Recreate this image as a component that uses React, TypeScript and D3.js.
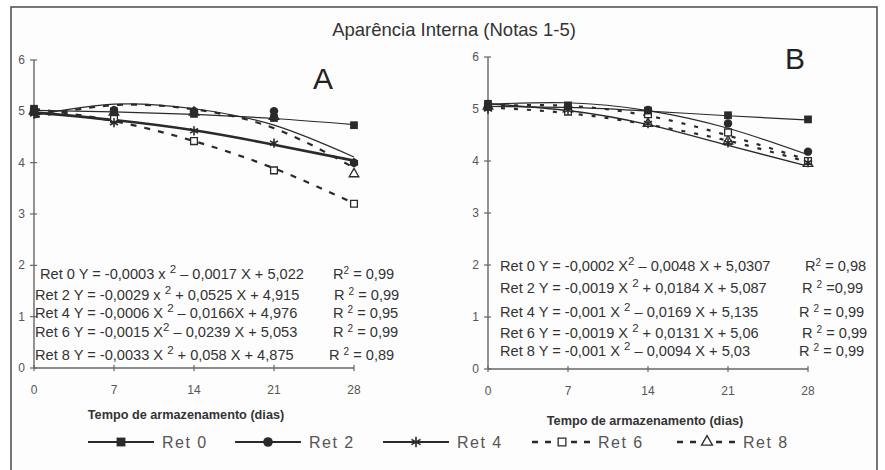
import React from 'react';
import * as d3 from 'd3';

// storage days
const days = [0, 7, 14, 21, 28];
const yTicks = [0, 1, 2, 3, 4, 5, 6];
const seriesNames = ['Ret 0', 'Ret 2', 'Ret 4', 'Ret 6', 'Ret 8'];

// panel A - observed scores
const obsA = [
  [5.05, 5.0, 4.95, 4.87, 4.73],
  [5.0, 5.02, 5.0, 5.0, 4.0],
  [4.95, 4.78, 4.62, 4.38, 4.0],
  [5.0, 4.85, 4.42, 3.85, 3.2],
  [5.0, 4.98, 4.98, 4.9, 3.78],
];
// panel A - trendline values
const fitA = [
  [5.02, 4.99, 4.94, 4.86, 4.74],
  [4.92, 5.14, 5.05, 4.73, 4.11],
  [4.98, 4.83, 4.63, 4.35, 4.04],
  [5.05, 4.81, 4.42, 3.89, 3.21],
  [4.88, 5.12, 5.04, 4.67, 3.9],
];
// panel B - observed scores
const obsB = [
  [5.1, 5.07, 4.97, 4.88, 4.8],
  [5.05, 5.05, 4.98, 4.72, 4.18],
  [5.0, 4.98, 4.72, 4.35, 3.97],
  [5.05, 4.95, 4.9, 4.55, 4.0],
  [5.05, 5.0, 4.72, 4.38, 3.95],
];
// panel B - trendline values
const fitB = [
  [5.05, 5.03, 4.96, 4.87, 4.79],
  [5.09, 5.12, 4.97, 4.63, 4.12],
  [5.1, 4.97, 4.7, 4.3, 3.9],
  [5.06, 5.06, 4.87, 4.49, 4.02],
  [5.03, 4.92, 4.7, 4.39, 3.98],
];

// regression labels: [before superscript, after superscript], R² text
const eqA = [
  ['Ret 0 Y = -0,0003 x ', ' – 0,0017 X + 5,022'],
  ['Ret 2 Y = -0,0029 x ', ' + 0,0525 X + 4,915'],
  ['Ret 4 Y = -0,0006 X ', ' – 0,0166X + 4,976'],
  ['Ret 6 Y = -0,0015 X', ' – 0,0239 X + 5,053'],
  ['Ret 8 Y = -0,0033 X ', ' + 0,058 X + 4,875'],
];
const r2A = [['R', ' = 0,99'], ['R ', ' = 0,99'], ['R ', ' = 0,95'], ['R ', ' = 0,99'], ['R ', ' = 0,89']];
const eqB = [
  ['Ret 0 Y = -0,0002 X', ' – 0,0048 X + 5,0307'],
  ['Ret 2 Y = -0,0019 X ', ' + 0,0184 X  + 5,087'],
  ['Ret 4 Y = -0,001 X ', ' – 0,0169 X + 5,135'],
  ['Ret 6 Y = -0,0019 X ', ' + 0,0131 X + 5,06'],
  ['Ret 8 Y = -0,001 X ', ' – 0,0094 X + 5,03'],
];
const r2B = [['R', ' = 0,98'], ['R ', ' =0,99'], ['R ', ' = 0,99'], ['R ', ' = 0,99'], ['R ', ' = 0,99']];

const FONT = '"Liberation Sans", Arial, sans-serif';
const INK = '#2a2a2a';
const AXIS = '#666';

const panels = [
  { key: 'A', obs: obsA, fit: fitA, eq: eqA, r2: r2A, x: [34, 354], y: [368, 60],
    letter: [313, 89], eqX: [40, 35, 35, 35, 35], eqY: [279, 300, 318, 337, 360], rX: [333, 334, 333, 333, 329],
    titleX: 186, titleY: 419, thick: 2.6, dash: '6,8', dashW: 2.2 },
  { key: 'B', obs: obsB, fit: fitB, eq: eqB, r2: r2B, x: [488, 808], y: [369, 57],
    letter: [785, 69], eqX: [500, 500, 500, 500, 500], eqY: [271, 293, 317, 338, 356], rX: [805, 802, 799, 802, 799],
    titleX: 645, titleY: 425, thick: 1.4, dash: '4,9', dashW: 2.2 },
];

const markerPath = (i: number, size: number) => {
  const types = [d3.symbolSquare, d3.symbolCircle, d3.symbolAsterisk, d3.symbolSquare, d3.symbolTriangle];
  return d3.symbol().type(types[i]).size(size)() as string;
};

const Marker = ({ i, x, y, s = 1 }: { i: number; x: number; y: number; s?: number }) => {
  const sizes = [60, 56, 60, 46, 40];
  const d = markerPath(i, sizes[i] * s);
  if (i === 2) return <path d={d} transform={`translate(${x},${y})`} fill="none" stroke={INK} strokeWidth={1.6} />;
  if (i >= 3) return <path d={d} transform={`translate(${x},${y})`} fill="#fff" stroke={INK} strokeWidth={1.3} />;
  return <path d={d} transform={`translate(${x},${y})`} fill={INK} />;
};

const Panel = ({ p }: { p: typeof panels[number] }) => {
  const x = d3.scaleLinear().domain([0, 28]).range(p.x);
  const y = d3.scaleLinear().domain([0, 6]).range(p.y);
  const line = d3.line<number>().x((_, j) => x(days[j])).y((v) => y(v)).curve(d3.curveNatural);
  const styles = [
    { w: 1.2, dash: undefined },
    { w: 1.2, dash: undefined },
    { w: p.thick, dash: undefined },
    { w: p.dashW, dash: p.dash },
    { w: p.dashW, dash: p.dash },
  ];
  return (
    <g>
      {/* axes */}
      <line x1={x(0)} x2={x(0)} y1={y(0)} y2={y(6)} stroke={AXIS} strokeWidth={1.4} />
      <line x1={x(0)} x2={x(28)} y1={y(0)} y2={y(0)} stroke={AXIS} strokeWidth={1.4} />
      {yTicks.map((t) => (
        <g key={t}>
          <line x1={x(0) - 4} x2={x(0) + 3} y1={y(t)} y2={y(t)} stroke={AXIS} strokeWidth={1.2} />
          <text x={x(0) - 9} y={y(t) + 4} fontSize={12} textAnchor="end" fill="#555" fontFamily={FONT}>{t}</text>
        </g>
      ))}
      {days.map((d) => (
        <g key={d}>
          <line x1={x(d)} x2={x(d)} y1={y(0) - 3} y2={y(0) + 3} stroke={AXIS} strokeWidth={1.2} />
          <text x={x(d)} y={y(0) + 26} fontSize={12} textAnchor="middle" fill="#555" fontFamily={FONT}>{d}</text>
        </g>
      ))}
      <text x={p.titleX} y={p.titleY} fontSize={12.7} fontWeight="bold" textAnchor="middle" fill="#333" fontFamily={FONT}>
        Tempo de armazenamento (dias)
      </text>
      <text x={p.letter[0]} y={p.letter[1]} fontSize={30} fill="#222" fontFamily={FONT}>{p.key}</text>

      {/* trendlines */}
      {p.fit.map((s, i) => (
        <path key={i} d={line(s) as string} fill="none" stroke={INK} strokeWidth={styles[i].w}
          strokeDasharray={styles[i].dash} />
      ))}
      {/* observed points */}
      {[4, 3, 2, 1, 0].map((i) =>
        p.obs[i].map((v, j) => <Marker key={`${i}-${j}`} i={i} x={x(days[j])} y={y(v)} />)
      )}

      {/* equations */}
      {p.eq.map((e, i) => (
        <g key={i} fontFamily={FONT} fontSize={14.6} fill="#333" style={{ whiteSpace: 'pre' }}>
          <text x={p.eqX[i]} y={p.eqY[i]}>
            <tspan>{e[0]}</tspan>
            <tspan dy={-6} fontSize={11.5}>2</tspan>
            <tspan dy={6}>{e[1]}</tspan>
          </text>
          <text x={p.rX[i]} y={p.eqY[i]}>
            <tspan>{p.r2[i][0]}</tspan>
            <tspan dy={-5} fontSize={10}>2</tspan>
            <tspan dy={5}>{p.r2[i][1]}</tspan>
          </text>
        </g>
      ))}
    </g>
  );
};

const legendX = [88, 235, 383, 532, 677];

const Legend = () => (
  <g>
    {seriesNames.map((n, i) => {
      const x0 = legendX[i];
      const w = i < 3 ? 66 : 58;
      const cy = 442;
      return (
        <g key={n}>
          <line x1={x0} x2={x0 + w} y1={cy} y2={cy} stroke={INK} strokeWidth={i < 3 ? 2 : 2.6}
            strokeDasharray={i < 3 ? undefined : '6,7'} />
          <Marker i={i} x={x0 + (i < 3 ? 33 : 30)} y={cy} s={1.3} />
          <text x={x0 + w + 8} y={cy + 6} fontSize={16} letterSpacing={1.5} fill="#555" fontFamily={FONT}>{n}</text>
        </g>
      );
    })}
  </g>
);

export default function App() {
  return (
    <svg width={885} height={470} style={{ position: 'absolute', left: 0, top: 0, background: '#fff' }}>
      <rect x={11} y={7} width={866} height={470} fill="#fdfdfd" stroke="#555" strokeWidth={1.6} />
      <text x={454} y={36} fontSize={18.5} textAnchor="middle" fill="#333" fontFamily={FONT}>
        Aparência Interna (Notas 1-5)
      </text>
      {panels.map((p) => <Panel key={p.key} p={p} />)}
      <Legend />
    </svg>
  );
}
